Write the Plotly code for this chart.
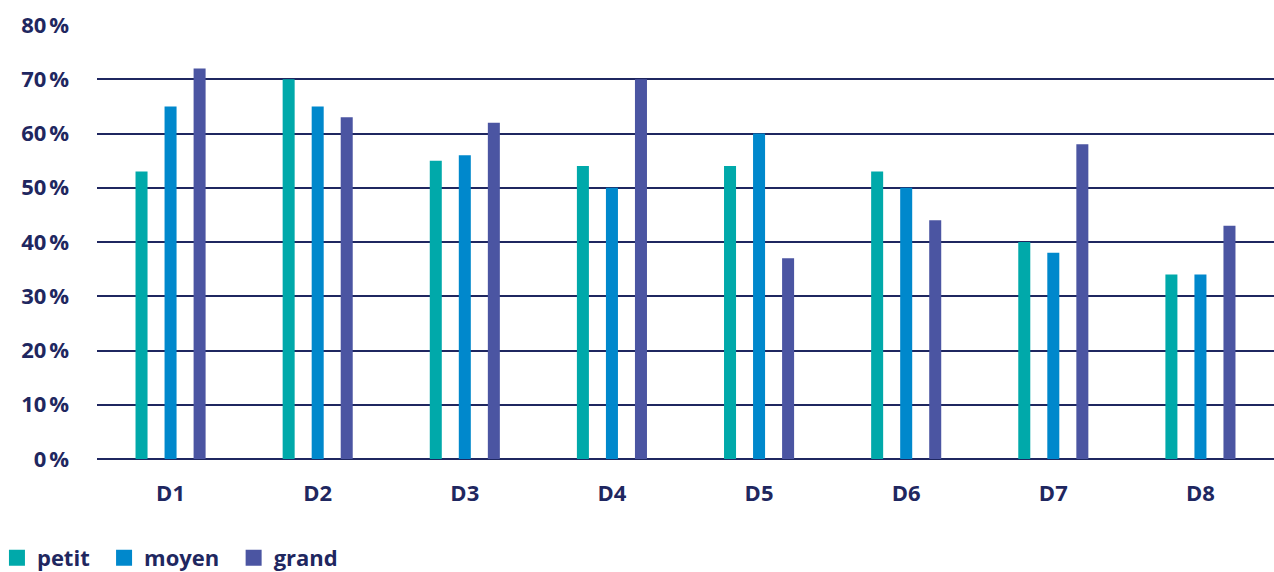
import plotly.graph_objects as go

categories = ["D1", "D2", "D3", "D4", "D5", "D6", "D7", "D8"]
petit = [53, 70, 55, 54, 54, 53, 40, 34]
moyen = [65, 65, 56, 50, 60, 50, 38, 34]
grand = [72, 63, 62, 70, 37, 44, 58, 43]
y_ticks = [0, 10, 20, 30, 40, 50, 60, 70, 80]
y_tick_labels = [f"{v}\u202f%" for v in y_ticks]

series = [("petit", petit, "#00A9AA"), ("moyen", moyen, "#0088CC"), ("grand", grand, "#4B55A2")]
navy = "#1F2760"
font_family = "Open Sans"

fig = go.Figure()
for name, vals, col in series:
    fig.add_trace(go.Bar(x=categories, y=vals, name=name, marker_color=col,
                         marker_line_width=0, showlegend=False, legendgroup=name))
for name, vals, col in series:
    fig.add_trace(go.Scatter(x=[None], y=[None], mode="markers", name=name + "\u00a0\u2009",
                             legendgroup=name,
                             marker=dict(symbol="square", size=16, color=col)))

fig.update_layout(
    width=1274, height=572,
    margin=dict(l=97, r=0, t=25, b=113, autoexpand=False),
    paper_bgcolor="white", plot_bgcolor="white",
    barmode="group", bargap=0.408, bargroupgap=0.586,
    font=dict(family=font_family, color=navy, size=20),
    legend=dict(orientation="h", x=-0.085, xanchor="left", y=-0.228, yanchor="middle",
                font=dict(family=font_family, size=22, color=navy, weight="bold"),
                itemwidth=30, tracegroupgap=0),
)
fig.update_xaxes(showgrid=False, showline=False, ticks="", ticklabelstandoff=19,
                 tickfont=dict(family=font_family, size=22, color=navy, weight="bold"))
fig.update_yaxes(range=[0, 80], tickvals=y_ticks, ticktext=y_tick_labels,
                 showgrid=True, gridcolor=navy, gridwidth=1.6,
                 zeroline=True, zerolinecolor=navy, zerolinewidth=1.6,
                 showline=False, ticks="", ticklabelstandoff=27,
                 tickfont=dict(family=font_family, size=22, color=navy, weight="bold"))

fig.write_html("out.html")
